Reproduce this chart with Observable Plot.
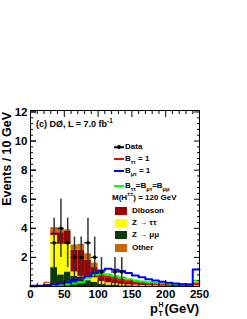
<!DOCTYPE html>
<html><head><meta charset="utf-8">
<script src="https://cdn.jsdelivr.net/npm/d3@7"></script>
<script src="https://cdn.jsdelivr.net/npm/@observablehq/plot@0.6"></script>
<style>
body{margin:0;background:#fff;}
#wrap{position:relative;width:247px;height:319px;font-family:"Liberation Sans",Arial,sans-serif;font-weight:bold;color:#000;overflow:hidden;}
#wrap svg{position:absolute;left:0;top:0;}
.t{position:absolute;white-space:nowrap;line-height:1;}
.lg{position:absolute;white-space:nowrap;font-size:8px;line-height:1;transform:translateY(-50%);}
.ln{position:absolute;height:2px;transform:translateY(-50%);}
.bx{position:absolute;width:12px;height:8px;transform:translateY(-50%);}
sub,sup{font-size:70%;line-height:0;}
</style></head><body><div id="wrap"></div>
<script>
// bin edges (GeV)
const binLow  = [0,10,20,30,40,50,60,70,80,90,100,110,120,130,140,150,160,170,180,190,200,210,220,230,240];
const binHigh = [10,20,30,40,50,60,70,80,90,100,110,120,130,140,150,160,170,180,190,200,210,220,230,240,250];

// stacked backgrounds (bottom -> top)
const zmumu   = [0,0,0,1.3,0.8,1.0,0.7,0.5,0.4,0.3,0.15,0.1,0.1,0.05,0.05,0.04,0.03,0.03,0.02,0.02,0.02,0.01,0.01,0.01,0.03];
const ztautau = [0,0,0.2,2.2,2.1,1.9,0.3,0.2,0.3,0.3,0.2,0.15,0.1,0.1,0.05,0.05,0.04,0.03,0.03,0.02,0.02,0.02,0.01,0.01,0.03];
const diboson = [0,0,0,0.2,0.8,0.9,1.5,1.8,1.1,0.7,0.5,0.45,0.4,0.3,0.25,0.18,0.15,0.12,0.09,0.07,0.05,0.04,0.03,0.03,0.07];
const other   = [0,0,0.1,0.35,0.3,0.1,0.35,0.4,0.45,0.3,0.15,0.15,0.1,0.1,0.05,0.03,0.03,0.02,0.01,0.01,0.01,0.01,0.01,0,0.02];

// signal hypotheses (M = 120 GeV)
const sigTauTau = [0.02,0.03,0.1,0.15,0.2,0.3,0.45,0.6,0.7,0.75,0.7,0.65,0.55,0.45,0.38,0.3,0.25,0.2,0.17,0.14,0.12,0.1,0.09,0.08,0.2];
const sigMuTau  = [0.05,0.05,0.08,0.15,0.2,0.3,0.45,0.6,0.7,0.92,1.1,1.22,1.15,1.06,0.92,0.76,0.64,0.5,0.41,0.32,0.25,0.2,0.16,0.14,1.17];
const sigEqual  = [0.02,0.03,0.05,0.08,0.12,0.15,0.2,0.3,0.6,0.8,0.85,0.8,0.7,0.62,0.5,0.42,0.35,0.3,0.25,0.22,0.2,0.18,0.16,0.15,0.4];

// data
const dataX  = [35,45,55,65,75,85,95,105,125,135];
const dataY  = [3,4,3,2,2,3,2,1,1,1];
const dataLo = [1.3,2.0,1.3,0.6,0.6,1.3,0.6,0,0,0];
const dataHi = [4.7,6.0,4.7,3.4,3.4,4.7,3.4,2.0,2.0,2.0];
const dataXlo = [30,40,50,60,70,80,90,100,120,130];
const dataXhi = [40,50,60,70,80,90,100,110,130,140];

// axes
const xMajor = [0,50,100,150,200,250];
const xMinor = [10,20,30,40,60,70,80,90,110,120,130,140,160,170,180,190,210,220,230,240];
const yMajor = [0,2,4,6,8,10,12];
const yLabels = [2,4,6,8,10,12];
const yMinor = [0.4,0.8,1.2,1.6,2.4,2.8,3.2,3.6,4.4,4.8,5.2,5.6,6.4,6.8,7.2,7.6,8.4,8.8,9.2,9.6,10.4,10.8,11.2,11.6];

const procNames  = ["Z→μμ","Z→ττ","Diboson","Other"];
const procColors = ["#0b3b0b","#ffff00","#9a0000","#cc6600"];
const procVals   = [zmumu, ztautau, diboson, other];

const stackData = procNames.flatMap((p,k)=>procVals[k].map((v,i)=>({proc:p,x1:binLow[i],x2:binHigh[i],y:v})));
const steps = vals => vals.flatMap((v,i)=>[{x:binLow[i],y:v},{x:binHigh[i],y:v}]);
const dataRows = dataX.map((x,i)=>({x,y:dataY[i],lo:dataLo[i],hi:dataHi[i],xl:dataXlo[i],xh:dataXhi[i]}));

const fs = {fontFamily:"Liberation Sans, Arial, sans-serif", fontWeight:"bold"};

const chart = Plot.plot({
  width:247, height:319,
  marginLeft:30, marginRight:48, marginTop:110, marginBottom:33,
  style:{...fs, fontSize:"11.5px", background:"transparent", overflow:"visible"},
  x:{domain:[0,250]},
  y:{domain:[0,12.1]},
  color:{domain:procNames, range:procColors},
  marks:[
    Plot.rectY(stackData,{x1:"x1",x2:"x2",y:"y",fill:"proc",order:procNames}),
    Plot.line(steps(sigTauTau),{x:"x",y:"y",stroke:"#ff0000",strokeWidth:2}),
    Plot.line(steps(sigEqual),{x:"x",y:"y",stroke:"#00ff00",strokeWidth:2}),
    Plot.line(steps(sigMuTau),{x:"x",y:"y",stroke:"#0000ff",strokeWidth:2}),
    Plot.ruleX(dataRows,{x:"x",y1:"lo",y2:"hi",stroke:"#333",strokeWidth:1.5}),
    Plot.ruleY(dataRows,{y:"y",x1:"xl",x2:"xh",stroke:"#111",strokeWidth:1.2}),
    Plot.dot(dataRows,{x:"x",y:"y",r:1.8,fill:"#000"}),
    Plot.frame({stroke:"#000"}),
    Plot.axisX({anchor:"bottom",ticks:xMajor,tickSize:-6,tickPadding:9.5,tickFormat:d=>String(d),label:null}),
    Plot.axisX({anchor:"bottom",ticks:xMinor,tickSize:-3,text:null,label:null}),
    Plot.axisX({anchor:"top",ticks:xMajor,tickSize:-6,text:null,label:null}),
    Plot.axisX({anchor:"top",ticks:xMinor,tickSize:-3,text:null,label:null}),
    Plot.axisY({anchor:"left",ticks:yMajor,tickSize:-6,text:null,label:null}),
    Plot.axisY({anchor:"left",ticks:yLabels,tickSize:-6,tickPadding:9,tickFormat:d=>String(d),label:null}),
    Plot.axisY({anchor:"left",ticks:yMinor,tickSize:-3,text:null,label:null}),
    Plot.axisY({anchor:"right",ticks:yMajor,tickSize:-6,text:null,label:null}),
    Plot.axisY({anchor:"right",ticks:yMinor,tickSize:-3,text:null,label:null})
  ]
});
const wrap = document.getElementById("wrap");
wrap.appendChild(chart);

const html = `
<div class="t" style="left:36px;top:120px;font-size:9px;">(c) DØ, L = 7.0 fb<sup>-1</sup></div>
<div class="t" style="left:1px;top:112px;font-size:12.5px;writing-mode:vertical-rl;transform:rotate(180deg);">Events / 10 GeV</div>

<div class="t" style="left:150px;top:302px;font-size:13px;">p</div>
<div class="t" style="left:158.5px;top:300.5px;font-size:7px;">H</div>
<div class="t" style="left:158.5px;top:310px;font-size:7px;">T</div>
<div class="t" style="left:164.5px;top:302px;font-size:13px;">(GeV)</div>

<div class="ln" style="left:114px;top:147px;width:10px;height:1.5px;background:#000;"></div>
<div style="position:absolute;left:117px;top:145px;width:4px;height:4px;border-radius:50%;background:#000;"></div>
<div class="lg" style="left:125px;top:147px;">Data</div>

<div class="ln" style="left:114px;top:159px;width:10px;background:#ff0000;"></div>
<div class="lg" style="left:125px;top:159px;">B<sub>ττ</sub> = 1</div>

<div class="ln" style="left:114px;top:171px;width:10px;background:#0000ff;"></div>
<div class="lg" style="left:125px;top:171px;">B<sub>μτ</sub> = 1</div>

<div class="ln" style="left:114px;top:186px;width:10px;background:#00ff00;"></div>
<div class="lg" style="left:125px;top:186px;">B<sub>ττ</sub>=B<sub>μτ</sub>=B<sub>μμ</sub></div>

<div class="lg" style="left:112px;top:198px;">M(H<sup>±±</sup>) = 120 GeV</div>

<div class="bx" style="left:115px;top:211px;background:#9a0000;"></div>
<div class="lg" style="left:132px;top:211px;">Diboson</div>
<div class="bx" style="left:115px;top:223px;background:#ffff00;"></div>
<div class="lg" style="left:132px;top:223px;">Z → ττ</div>
<div class="bx" style="left:115px;top:235px;background:#0b3b0b;"></div>
<div class="lg" style="left:132px;top:235px;">Z → μμ</div>
<div class="bx" style="left:115px;top:248px;background:#cc6600;"></div>
<div class="lg" style="left:132px;top:248px;">Other</div>
`;
wrap.insertAdjacentHTML("beforeend", html);
</script>
</body></html>
